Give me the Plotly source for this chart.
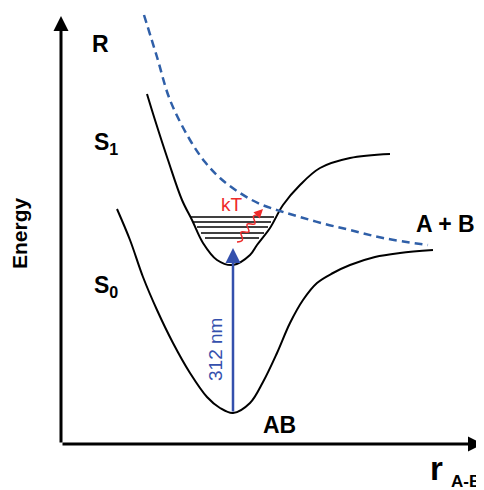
import plotly.graph_objects as go

# ---- data (x = bond distance r in px-units, E = energy measured downward in px-units) ----
H = 490
s0_r = [117, 130, 143, 157, 173, 190, 207, 220, 233, 250, 263, 277, 290, 303, 317, 333, 350, 375, 400, 433]
s0_y = [209, 240, 277, 310, 343, 373, 397, 408, 413, 403, 382, 353, 323, 300, 283, 273, 265, 257, 253, 250]

s1_r = [147, 155, 168, 182, 192, 203, 217, 233, 250, 257, 270, 283, 300, 320, 350, 390]
s1_y = [94, 120, 160, 200, 220, 243, 260, 265, 255, 245, 228, 205, 185, 168, 158, 154]

rep_r = [144, 157, 170, 190, 205, 220, 240, 260, 280, 300, 325, 350, 383, 428]
rep_y = [15, 57, 100, 140, 162, 178, 193, 204, 211, 217, 224, 230, 238, 245]

vib_y = [217, 222, 227, 233, 238]
vib_left = [190, 193, 197, 201, 205]
vib_right = [274, 271, 268, 264, 259]

wave_r = [237, 242.5, 240.9, 248.8, 247.1, 255.0, 253.4, 257.5]
wave_y = [242, 239.9, 232.2, 231.8, 224.2, 223.8, 216.2, 215]

E = lambda ys: [H - v for v in ys]

BLACK = "#000000"
BLUE_D = "#2f5fa8"
BLUE_A = "#3450ad"
RED = "#ee2a2a"
FONT = "Liberation Sans, Arial, sans-serif"

fig = go.Figure()
fig.add_trace(go.Scatter(x=s0_r, y=E(s0_y), mode="lines", line=dict(color=BLACK, width=2, shape="spline", smoothing=1.0), hoverinfo="skip"))
fig.add_trace(go.Scatter(x=s1_r, y=E(s1_y), mode="lines", line=dict(color=BLACK, width=2, shape="spline", smoothing=1.0), hoverinfo="skip"))
fig.add_trace(go.Scatter(x=rep_r, y=E(rep_y), mode="lines", line=dict(color=BLUE_D, width=2.5, dash="8px,5px", shape="spline", smoothing=1.0), hoverinfo="skip"))
for yv, xl, xr in zip(vib_y, vib_left, vib_right):
    fig.add_trace(go.Scatter(x=[xl, xr], y=[H - yv, H - yv], mode="lines", line=dict(color=BLACK, width=1.5), hoverinfo="skip"))
fig.add_trace(go.Scatter(x=wave_r, y=E(wave_y), mode="lines", line=dict(color=RED, width=1.5, shape="spline", smoothing=1.3), hoverinfo="skip"))

ann = []
def arrow(x0, y0, x1, y1, color, width, size=1.0):
    ann.append(dict(x=x1, y=H - y1, ax=x0, ay=H - y0, xref="x", yref="y", axref="x", ayref="y",
                    text="", showarrow=True, arrowhead=2, arrowsize=size, arrowwidth=width, arrowcolor=color))

arrow(61, 444, 61, 16, BLACK, 3, 1.0)
arrow(61, 444, 483, 444, BLACK, 3, 1.0)
arrow(233, 413, 233, 248, BLUE_A, 2.5, 1.2)
arrow(256, 216, 263, 209, RED, 1.5, 1.2)

def label(x, y, text, size, color=BLACK, bold=True, angle=0):
    t = f"<b>{text}</b>" if bold else text
    ann.append(dict(x=x, y=H - y, xref="x", yref="y", text=t, showarrow=False, textangle=angle,
                    font=dict(family=FONT, size=size, color=color), xanchor="center", yanchor="middle"))

label(100, 44, "R", 23)
label(106, 143, "S<sub>1</sub>", 23)
label(106, 286, "S<sub>0</sub>", 23)
label(232, 204, "kT", 19, RED, bold=False)
label(445, 224, "A + B", 23)
label(279, 425, "AB", 23)
label(215, 350, "312 nm", 19, BLUE_A, bold=False, angle=-90)
label(19, 233, "Energy", 21, angle=-90)
label(436, 468, "r", 33)
label(466, 481, "A-B", 17)

# body has an 8px margin in the page: shift the figure so data px == screen px
fig.update_layout(
    width=476, height=482, margin=dict(l=0, r=0, t=0, b=0),
    paper_bgcolor="white", plot_bgcolor="white", showlegend=False,
    xaxis=dict(range=[8, 484], visible=False, fixedrange=True),
    yaxis=dict(range=[0, 482], visible=False, fixedrange=True),
    annotations=ann,
)
fig.write_html("out.html")
